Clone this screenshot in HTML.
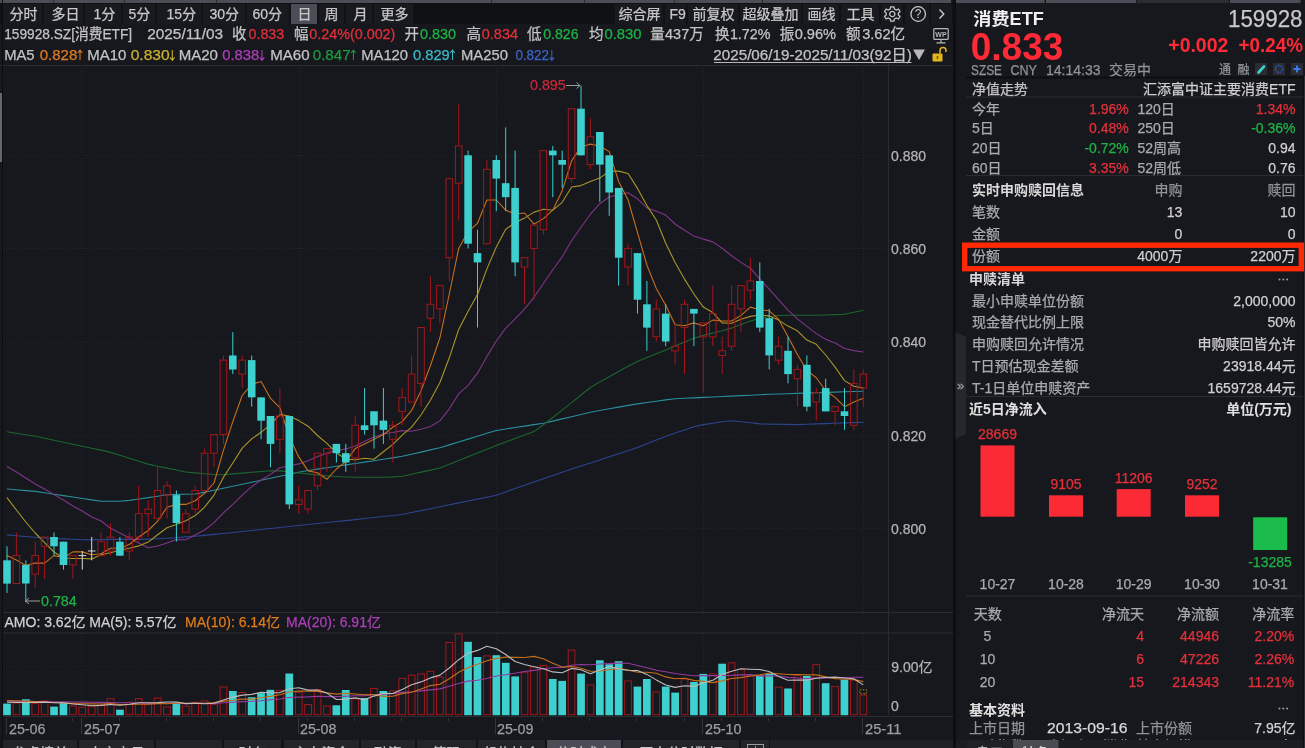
<!DOCTYPE html>
<html><head><meta charset="utf-8"><title>消费ETF</title>
<style>
html,body{margin:0;padding:0;background:#16181d;}
body{width:1305px;height:748px;overflow:hidden;}
svg{display:block;font-family:"Liberation Sans","Noto Sans CJK SC",sans-serif;}
</style></head><body>
<svg width="1305" height="748" viewBox="0 0 1305 748" font-size="14">
<rect width="1305" height="748" fill="#16181d"/>

<rect x="0" y="0" width="951" height="3" fill="#4b4e56"/>
<rect x="955" y="0" width="89.5" height="3" fill="#4b4e56"/><rect x="1046" y="0" width="90" height="3" fill="#4b4e56"/><rect x="1137" y="0" width="92" height="3" fill="#2b2d33"/><rect x="1230" y="0" width="70.5" height="3" fill="#4b4e56"/>
<rect x="53" y="0" width="1" height="3" fill="#2a2c31"/>
<rect x="124" y="0" width="1" height="3" fill="#2a2c31"/>
<rect x="216" y="0" width="1" height="3" fill="#2a2c31"/>
<rect x="491" y="0" width="1" height="3" fill="#2a2c31"/>
<rect x="584" y="0" width="1" height="3" fill="#2a2c31"/>
<rect x="674" y="0" width="1" height="3" fill="#2a2c31"/>
<rect x="762" y="0" width="1" height="3" fill="#2a2c31"/>
<rect x="0" y="3" width="953" height="21" fill="#0f1114"/>
<rect x="3" y="4" width="39" height="20" fill="#181a1f"/>
<text x="9.5" y="19.3" fill="#c8c8c8" stroke="#c8c8c8" stroke-width="0.25">分时</text>
<rect x="44" y="4" width="39" height="20" fill="#181a1f"/>
<text x="51.5" y="19.3" fill="#c8c8c8" stroke="#c8c8c8" stroke-width="0.25">多日</text>
<rect x="85" y="4" width="36" height="20" fill="#181a1f"/>
<text x="93.5" y="19.3" fill="#c8c8c8" stroke="#c8c8c8" stroke-width="0.25">1分</text>
<rect x="123" y="4" width="32" height="20" fill="#181a1f"/>
<text x="128.5" y="19.3" fill="#c8c8c8" stroke="#c8c8c8" stroke-width="0.25">5分</text>
<rect x="157" y="4" width="44" height="20" fill="#181a1f"/>
<text x="166.5" y="19.3" fill="#c8c8c8" stroke="#c8c8c8" stroke-width="0.25">15分</text>
<rect x="203" y="4" width="42" height="20" fill="#181a1f"/>
<text x="209.5" y="19.3" fill="#c8c8c8" stroke="#c8c8c8" stroke-width="0.25">30分</text>
<rect x="247" y="4" width="42" height="20" fill="#181a1f"/>
<text x="252.5" y="19.3" fill="#c8c8c8" stroke="#c8c8c8" stroke-width="0.25">60分</text>
<rect x="291" y="4" width="26" height="20" fill="#4a4d55"/>
<text x="297.5" y="19.3" fill="#c8c8c8" stroke="#c8c8c8" stroke-width="0.25">日</text>
<rect x="319" y="4" width="25" height="20" fill="#181a1f"/>
<text x="324.5" y="19.3" fill="#c8c8c8" stroke="#c8c8c8" stroke-width="0.25">周</text>
<rect x="346" y="4" width="26" height="20" fill="#181a1f"/>
<text x="353.5" y="19.3" fill="#c8c8c8" stroke="#c8c8c8" stroke-width="0.25">月</text>
<rect x="374" y="4" width="39" height="20" fill="#181a1f"/>
<text x="380.5" y="19.3" fill="#c8c8c8" stroke="#c8c8c8" stroke-width="0.25">更多</text>
<rect x="615" y="4" width="48" height="20" fill="#181a1f"/>
<text x="618.5" y="19.3" fill="#c8c8c8" stroke="#c8c8c8" stroke-width="0.25">综合屏</text>
<rect x="665" y="4" width="21" height="20" fill="#181a1f"/>
<text x="669.5" y="19.3" fill="#c8c8c8" stroke="#c8c8c8" stroke-width="0.25">F9</text>
<rect x="688" y="4" width="50" height="20" fill="#181a1f"/>
<text x="692.5" y="19.3" fill="#c8c8c8" stroke="#c8c8c8" stroke-width="0.25">前复权</text>
<rect x="740" y="4" width="61" height="20" fill="#181a1f"/>
<text x="742.5" y="19.3" fill="#c8c8c8" stroke="#c8c8c8" stroke-width="0.25">超级叠加</text>
<rect x="803" y="4" width="36" height="20" fill="#181a1f"/>
<text x="807.5" y="19.3" fill="#c8c8c8" stroke="#c8c8c8" stroke-width="0.25">画线</text>
<rect x="841" y="4" width="38" height="20" fill="#181a1f"/>
<text x="846.5" y="19.3" fill="#c8c8c8" stroke="#c8c8c8" stroke-width="0.25">工具</text>
<rect x="881" y="4" width="22" height="20" fill="#181a1f"/>
<rect x="905" y="4" width="24" height="20" fill="#181a1f"/>
<rect x="931" y="4" width="21" height="20" fill="#181a1f"/>
<g transform="translate(892.3,14)" fill="none" stroke="#c8c8c8" stroke-width="1.3"><circle r="2.6"/><path d="M-1.6,-7.2 L1.6,-7.2 L2.2,-5 L4.3,-4 L6.3,-5.1 L7.9,-2.4 L6.2,-0.9 L6.2,0.9 L7.9,2.4 L6.3,5.1 L4.3,4 L2.2,5 L1.6,7.2 L-1.6,7.2 L-2.2,5 L-4.3,4 L-6.3,5.1 L-7.9,2.4 L-6.2,0.9 L-6.2,-0.9 L-7.9,-2.4 L-6.3,-5.1 L-4.3,-4 L-2.2,-5 Z" transform="scale(0.98)"/></g>
<g transform="translate(918.2,14)"><circle r="7.3" fill="none" stroke="#c8c8c8" stroke-width="1.3"/><text x="0" y="4.3" fill="#c8c8c8" font-size="12" text-anchor="middle">?</text></g>
<path d="M939.5,9.5 L943.8,14 L939.5,18.5" fill="none" stroke="#c8c8c8" stroke-width="1.4"/>
<text x="4.2" y="39.2" fill="#c4c4c4" stroke="#c4c4c4" stroke-width="0.25" font-size="14.5" textLength="127.9" lengthAdjust="spacingAndGlyphs">159928.SZ[消费ETF]</text>
<text x="147.2" y="39.2" fill="#c4c4c4" stroke="#c4c4c4" stroke-width="0.25" font-size="14.5" textLength="75.9" lengthAdjust="spacingAndGlyphs">2025/11/03</text>
<text x="232.1" y="39.2" fill="#c4c4c4" stroke="#c4c4c4" stroke-width="0.25" font-size="14.5">收</text>
<text x="248.5" y="39.2" fill="#e5303a" stroke="#e5303a" stroke-width="0.25" font-size="14.5" textLength="35.7" lengthAdjust="spacingAndGlyphs">0.833</text>
<text x="294.1" y="39.2" fill="#c4c4c4" stroke="#c4c4c4" stroke-width="0.25" font-size="14.5">幅</text>
<text x="309.2" y="39.2" fill="#e5303a" stroke="#e5303a" stroke-width="0.25" font-size="14.5" textLength="86.2" lengthAdjust="spacingAndGlyphs">0.24%(0.002)</text>
<text x="404.5" y="39.2" fill="#c4c4c4" stroke="#c4c4c4" stroke-width="0.25" font-size="14.5">开</text>
<text x="420.09999999999997" y="39.2" fill="#1fb347" stroke="#1fb347" stroke-width="0.25" font-size="14.5" textLength="36.0" lengthAdjust="spacingAndGlyphs">0.830</text>
<text x="466.4" y="39.2" fill="#c4c4c4" stroke="#c4c4c4" stroke-width="0.25" font-size="14.5">高</text>
<text x="481.8" y="39.2" fill="#e5303a" stroke="#e5303a" stroke-width="0.25" font-size="14.5" textLength="36.2" lengthAdjust="spacingAndGlyphs">0.834</text>
<text x="527.1" y="39.2" fill="#c4c4c4" stroke="#c4c4c4" stroke-width="0.25" font-size="14.5">低</text>
<text x="543.2" y="39.2" fill="#1fb347" stroke="#1fb347" stroke-width="0.25" font-size="14.5" textLength="35.4" lengthAdjust="spacingAndGlyphs">0.826</text>
<text x="589.0" y="39.2" fill="#c4c4c4" stroke="#c4c4c4" stroke-width="0.25" font-size="14.5">均</text>
<text x="604.4000000000001" y="39.2" fill="#1fb347" stroke="#1fb347" stroke-width="0.25" font-size="14.5" textLength="37.2" lengthAdjust="spacingAndGlyphs">0.830</text>
<text x="650.2" y="39.2" fill="#c4c4c4" stroke="#c4c4c4" stroke-width="0.25" font-size="14.5">量</text>
<text x="665.1" y="39.2" fill="#c4c4c4" stroke="#c4c4c4" stroke-width="0.25" font-size="14.5" textLength="38.5" lengthAdjust="spacingAndGlyphs">437万</text>
<text x="715.0" y="39.2" fill="#c4c4c4" stroke="#c4c4c4" stroke-width="0.25" font-size="14.5">换</text>
<text x="729.9000000000001" y="39.2" fill="#c4c4c4" stroke="#c4c4c4" stroke-width="0.25" font-size="14.5" textLength="40.6" lengthAdjust="spacingAndGlyphs">1.72%</text>
<text x="779.8" y="39.2" fill="#c4c4c4" stroke="#c4c4c4" stroke-width="0.25" font-size="14.5">振</text>
<text x="794.7" y="39.2" fill="#c4c4c4" stroke="#c4c4c4" stroke-width="0.25" font-size="14.5" textLength="41.4" lengthAdjust="spacingAndGlyphs">0.96%</text>
<text x="846.1" y="39.2" fill="#c4c4c4" stroke="#c4c4c4" stroke-width="0.25" font-size="14.5">额</text>
<text x="862.2" y="39.2" fill="#c4c4c4" stroke="#c4c4c4" stroke-width="0.25" font-size="14.5" textLength="42.9" lengthAdjust="spacingAndGlyphs">3.62亿</text>
<g fill="none" stroke="#b8b8b8" stroke-width="1.2"><rect x="933.8" y="28.6" width="14.4" height="10.8" rx="1"/><path d="M941,39.6 L941,42.2 M936.5,42.8 L945.5,42.8"/></g><text x="941" y="37" fill="#b8b8b8" font-size="7" font-weight="bold" text-anchor="middle">WP</text>
<text x="4.2" y="60.3" fill="#c4c4c4" stroke="#c4c4c4" stroke-width="0.25" font-size="14.5" textLength="30.4" lengthAdjust="spacingAndGlyphs">MA5</text>
<text x="39.7" y="60.3" fill="#e07b1f" stroke="#e07b1f" stroke-width="0.25" font-size="14.5" textLength="37.6" lengthAdjust="spacingAndGlyphs">0.828</text>
<path d="M80.0,60.099999999999994 L80.0,50.3 M77.7,53.0 L80.0,50.099999999999994 L82.3,53.0" fill="none" stroke="#e07b1f" stroke-width="1.05"/>
<text x="87.2" y="60.3" fill="#c4c4c4" stroke="#c4c4c4" stroke-width="0.25" font-size="14.5" textLength="39.1" lengthAdjust="spacingAndGlyphs">MA10</text>
<text x="130.7" y="60.3" fill="#cbb22e" stroke="#cbb22e" stroke-width="0.25" font-size="14.5" textLength="38.9" lengthAdjust="spacingAndGlyphs">0.830</text>
<path d="M172.3,50.099999999999994 L172.3,60.3 M170.0,57.4 L172.3,60.3 L174.60000000000002,57.4" fill="none" stroke="#cbb22e" stroke-width="1.05"/>
<text x="178.7" y="60.3" fill="#c4c4c4" stroke="#c4c4c4" stroke-width="0.25" font-size="14.5" textLength="39.3" lengthAdjust="spacingAndGlyphs">MA20</text>
<text x="222.2" y="60.3" fill="#ad3fb8" stroke="#ad3fb8" stroke-width="0.25" font-size="14.5" textLength="37.1" lengthAdjust="spacingAndGlyphs">0.838</text>
<path d="M262.0,50.099999999999994 L262.0,60.3 M259.7,57.4 L262.0,60.3 L264.3,57.4" fill="none" stroke="#ad3fb8" stroke-width="1.05"/>
<text x="270.2" y="60.3" fill="#c4c4c4" stroke="#c4c4c4" stroke-width="0.25" font-size="14.5" textLength="39.4" lengthAdjust="spacingAndGlyphs">MA60</text>
<text x="312.7" y="60.3" fill="#1f9a3e" stroke="#1f9a3e" stroke-width="0.25" font-size="14.5" textLength="38.0" lengthAdjust="spacingAndGlyphs">0.847</text>
<path d="M353.40000000000003,60.099999999999994 L353.40000000000003,50.3 M351.1,53.0 L353.40000000000003,50.099999999999994 L355.70000000000005,53.0" fill="none" stroke="#1f9a3e" stroke-width="1.05"/>
<text x="361.2" y="60.3" fill="#c4c4c4" stroke="#c4c4c4" stroke-width="0.25" font-size="14.5" textLength="46.9" lengthAdjust="spacingAndGlyphs">MA120</text>
<text x="413.0" y="60.3" fill="#3cb9c9" stroke="#3cb9c9" stroke-width="0.25" font-size="14.5" textLength="36.8" lengthAdjust="spacingAndGlyphs">0.829</text>
<path d="M452.5,60.099999999999994 L452.5,50.3 M450.2,53.0 L452.5,50.099999999999994 L454.8,53.0" fill="none" stroke="#3cb9c9" stroke-width="1.05"/>
<text x="461.0" y="60.3" fill="#c4c4c4" stroke="#c4c4c4" stroke-width="0.25" font-size="14.5" textLength="46.9" lengthAdjust="spacingAndGlyphs">MA250</text>
<text x="515.4000000000001" y="60.3" fill="#3d64c8" stroke="#3d64c8" stroke-width="0.25" font-size="14.5" textLength="33.7" lengthAdjust="spacingAndGlyphs">0.822</text>
<path d="M551.8,50.099999999999994 L551.8,60.3 M549.5,57.4 L551.8,60.3 L554.0999999999999,57.4" fill="none" stroke="#3d64c8" stroke-width="1.05"/>
<text x="713.3" y="60.3" fill="#c4c4c4" stroke="#c4c4c4" stroke-width="0.25" font-size="14.5" textLength="198.5" lengthAdjust="spacingAndGlyphs">2025/06/19-2025/11/03(92日)</text>
<line x1="714" y1="62.5" x2="911.5" y2="62.5" stroke="#b8b8b8" stroke-width="1"/>
<path d="M913,49.5 L925,49.5 L919,60 Z" fill="#b8b8b8"/>
<rect x="932.5" y="53.5" width="10" height="8" rx="1" fill="#e3b51f"/><path d="M940,53.5 L940,50.5 A3,3 0 0 1 946,50.5 L946,52" fill="none" stroke="#e3b51f" stroke-width="1.5"/><rect x="936.8" y="56" width="1.4" height="3" fill="#6a5200"/>
<rect x="0" y="65" width="953" height="1" fill="#2a2c31"/>
<rect x="0" y="93" width="2" height="69" fill="#64666c"/>
<rect x="2" y="0" width="1" height="740" fill="#0b0c0f"/>
<rect x="3" y="612" width="950" height="1" fill="#2a2c31"/>
<rect x="3" y="632.5" width="950" height="1" fill="#2a2c31"/>
<rect x="888" y="64" width="1" height="651" fill="#2a2c31"/>
<rect x="3" y="716" width="950" height="1" fill="#2a2c31"/>
<text x="891" y="161.2" fill="#b4b4b4" stroke="#b4b4b4" stroke-width="0.25">0.880</text>
<text x="891" y="254.3" fill="#b4b4b4" stroke="#b4b4b4" stroke-width="0.25">0.860</text>
<text x="891" y="347.4" fill="#b4b4b4" stroke="#b4b4b4" stroke-width="0.25">0.840</text>
<text x="891" y="440.5" fill="#b4b4b4" stroke="#b4b4b4" stroke-width="0.25">0.820</text>
<text x="891" y="533.6" fill="#b4b4b4" stroke="#b4b4b4" stroke-width="0.25">0.800</text>
<line x1="3" y1="155.5" x2="888" y2="155.5" stroke="#24262b" stroke-dasharray="1,2"/>
<line x1="3" y1="248.5" x2="888" y2="248.5" stroke="#24262b" stroke-dasharray="1,2"/>
<line x1="3" y1="342.5" x2="888" y2="342.5" stroke="#24262b" stroke-dasharray="1,2"/>
<line x1="3" y1="435.5" x2="888" y2="435.5" stroke="#24262b" stroke-dasharray="1,2"/>
<line x1="3" y1="528.5" x2="888" y2="528.5" stroke="#24262b" stroke-dasharray="1,2"/>
<line x1="81.5" y1="65" x2="81.5" y2="612" stroke="#24262b" stroke-dasharray="1,2"/>
<line x1="81.5" y1="633" x2="81.5" y2="715" stroke="#24262b" stroke-dasharray="1,2"/>
<line x1="299.5" y1="65" x2="299.5" y2="612" stroke="#24262b" stroke-dasharray="1,2"/>
<line x1="299.5" y1="633" x2="299.5" y2="715" stroke="#24262b" stroke-dasharray="1,2"/>
<line x1="496.5" y1="65" x2="496.5" y2="612" stroke="#24262b" stroke-dasharray="1,2"/>
<line x1="496.5" y1="633" x2="496.5" y2="715" stroke="#24262b" stroke-dasharray="1,2"/>
<line x1="703.5" y1="65" x2="703.5" y2="612" stroke="#24262b" stroke-dasharray="1,2"/>
<line x1="703.5" y1="633" x2="703.5" y2="715" stroke="#24262b" stroke-dasharray="1,2"/>
<line x1="863.5" y1="65" x2="863.5" y2="612" stroke="#24262b" stroke-dasharray="1,2"/>
<line x1="863.5" y1="633" x2="863.5" y2="715" stroke="#24262b" stroke-dasharray="1,2"/>
<line x1="3" y1="666.5" x2="888" y2="666.5" stroke="#24262b" stroke-dasharray="1,2"/>
<polyline points="7.0,534.9 16.4,535.7 25.8,536.5 35.2,537.3 44.6,538.0 54.0,538.5 63.5,538.9 72.9,539.3 82.3,539.7 91.7,539.9 101.1,539.6 110.5,539.4 119.9,539.4 129.3,539.4 138.7,539.4 148.2,539.1 157.6,538.7 167.0,538.2 176.4,537.7 185.8,536.9 195.2,536.2 204.6,535.4 214.0,534.4 223.4,533.5 232.8,532.5 242.2,531.5 251.7,530.5 261.1,529.5 270.5,528.5 279.9,527.5 289.3,526.5 298.7,525.5 308.1,524.5 317.5,523.5 326.9,522.5 336.4,521.5 345.8,520.6 355.2,519.6 364.6,518.5 374.0,517.5 383.4,516.5 392.8,515.5 402.2,514.5 411.6,512.5 421.0,510.6 430.4,508.7 439.9,506.8 449.3,504.8 458.7,502.9 468.1,501.0 477.5,499.1 486.9,497.2 496.3,495.2 505.7,491.9 515.1,488.6 524.5,485.3 534.0,482.0 543.4,478.7 552.8,475.4 562.2,472.2 571.6,469.1 581.0,466.0 590.4,463.0 599.8,459.9 609.2,456.8 618.6,453.7 628.1,450.7 637.5,447.4 646.9,443.7 656.3,440.0 665.7,436.4 675.1,433.1 684.5,429.9 693.9,426.7 703.3,424.6 712.8,423.2 722.2,421.8 731.6,420.8 741.0,421.8 750.4,422.8 759.8,423.9 769.2,424.1 778.6,424.3 788.0,424.4 797.4,424.6 806.9,424.3 816.3,423.9 825.7,423.6 835.1,423.3 844.5,422.9 853.9,422.6 863.3,422.3" fill="none" stroke="#2b4590" stroke-width="1.1" stroke-linejoin="round"/>
<polyline points="7.0,489.0 16.4,489.8 25.8,490.6 35.2,491.4 44.6,492.8 54.0,494.2 63.5,495.6 72.9,497.0 82.3,498.5 91.7,499.9 101.1,501.3 110.5,501.3 119.9,501.3 129.3,500.4 138.7,499.0 148.2,497.6 157.6,496.2 167.0,494.8 176.4,494.4 185.8,494.2 195.2,494.0 204.6,492.1 214.0,490.2 223.4,488.3 232.8,486.3 242.2,484.3 251.7,482.3 261.1,480.3 270.5,478.3 279.9,476.3 289.3,474.3 298.7,472.3 308.1,470.5 317.5,469.1 326.9,467.7 336.4,466.3 345.8,464.9 355.2,463.5 364.6,462.1 374.0,460.7 383.4,459.3 392.8,457.9 402.2,456.3 411.6,454.2 421.0,452.1 430.4,449.9 439.9,447.8 449.3,444.9 458.7,442.0 468.1,439.1 477.5,436.2 486.9,433.3 496.3,430.5 505.7,429.0 515.1,427.5 524.5,426.1 534.0,424.6 543.4,423.2 552.8,421.1 562.2,418.9 571.6,416.7 581.0,414.5 590.4,412.3 599.8,410.5 609.2,408.8 618.6,407.1 628.1,405.4 637.5,403.9 646.9,402.5 656.3,401.2 665.7,399.9 675.1,398.8 684.5,398.3 693.9,397.9 703.3,397.4 712.8,397.0 722.2,396.5 731.6,396.1 741.0,395.6 750.4,395.2 759.8,394.7 769.2,394.3 778.6,394.0 788.0,393.7 797.4,393.4 806.9,393.1 816.3,392.8 825.7,392.4 835.1,392.1 844.5,391.8 853.9,391.5 863.3,391.2" fill="none" stroke="#2a8e9c" stroke-width="1.1" stroke-linejoin="round"/>
<polyline points="7.0,431.8 16.4,433.3 25.8,434.8 35.2,436.3 44.6,438.2 54.0,440.2 63.5,442.2 72.9,444.2 82.3,446.2 91.7,448.2 101.1,450.1 110.5,452.4 119.9,455.3 129.3,458.3 138.7,461.2 148.2,464.1 157.6,466.2 167.0,468.1 176.4,470.0 185.8,472.0 195.2,472.9 204.6,473.7 214.0,474.5 223.4,474.7 232.8,473.9 242.2,473.1 251.7,472.3 261.1,471.5 270.5,470.8 279.9,470.9 289.3,472.0 298.7,473.0 308.1,473.9 317.5,474.9 326.9,475.8 336.4,476.5 345.8,477.0 355.2,477.3 364.6,477.3 374.0,477.3 383.4,477.2 392.8,476.9 402.2,476.2 411.6,474.2 421.0,472.1 430.4,470.1 439.9,468.0 449.3,464.3 458.7,460.5 468.1,456.8 477.5,453.0 486.9,449.2 496.3,445.5 505.7,442.0 515.1,438.5 524.5,435.1 534.0,431.6 543.4,424.7 552.8,417.5 562.2,410.1 571.6,402.6 581.0,395.0 590.4,387.5 599.8,381.9 609.2,376.7 618.6,371.5 628.1,366.3 637.5,361.5 646.9,357.6 656.3,353.7 665.7,349.9 675.1,346.0 684.5,342.1 693.9,338.3 703.3,335.4 712.8,333.0 722.2,330.7 731.6,328.1 741.0,324.6 750.4,321.1 759.8,318.2 769.2,316.8 778.6,315.5 788.0,315.3 797.4,315.3 806.9,315.3 816.3,315.3 825.7,315.0 835.1,314.6 844.5,314.2 853.9,312.2 863.3,310.3" fill="none" stroke="#1b6630" stroke-width="1.1" stroke-linejoin="round"/>
<polyline points="7.0,466.5 16.4,472.0 25.8,478.0 35.2,484.0 44.6,489.0 54.0,494.6 63.5,500.0 72.9,506.0 82.3,511.0 91.7,517.0 101.1,521.0 110.5,528.3 119.9,533.0 129.3,538.0 138.7,543.0 148.2,547.7 157.6,546.0 167.0,543.0 176.4,539.5 185.8,539.8 195.2,535.1 204.6,530.0 214.0,522.6 223.4,512.8 232.8,504.4 242.2,495.1 251.7,486.7 261.1,480.0 270.5,474.4 279.9,467.7 289.3,465.8 298.7,463.9 308.1,460.7 317.5,456.5 326.9,453.2 336.4,450.4 345.8,449.0 355.2,446.0 364.6,441.3 374.0,436.9 383.4,433.9 392.8,432.5 402.2,430.6 411.6,431.3 421.0,429.2 430.4,426.5 439.9,420.9 449.3,408.8 458.7,393.9 468.1,385.3 477.5,373.2 486.9,356.6 496.3,341.0 505.7,328.2 515.1,318.9 524.5,309.1 534.0,297.3 543.4,283.5 552.8,269.8 562.2,256.8 571.6,240.7 581.0,227.2 590.4,214.2 599.8,203.7 609.2,197.0 618.6,194.6 628.1,192.8 637.5,198.8 646.9,207.9 656.3,211.2 665.7,215.1 675.1,224.0 684.5,230.2 693.9,236.1 703.3,239.1 712.8,241.9 722.2,248.2 731.6,255.8 741.0,262.4 750.4,268.2 759.8,279.1 769.2,289.1 778.6,299.6 788.0,310.1 797.4,318.9 806.9,326.4 816.3,333.6 825.7,339.2 835.1,343.1 844.5,348.5 853.9,350.6 863.3,352.0" fill="none" stroke="#803589" stroke-width="1.1" stroke-linejoin="round"/>
<polyline points="7.0,497.6 16.4,510.0 25.8,522.0 35.2,533.0 44.6,542.6 54.0,552.0 63.5,558.0 72.9,558.5 82.3,558.5 91.7,558.9 101.1,554.7 110.5,552.8 119.9,550.0 129.3,548.2 138.7,545.9 148.2,542.1 157.6,534.7 167.0,527.7 176.4,524.4 185.8,520.7 195.2,515.6 204.6,507.2 214.0,495.1 223.4,477.4 232.8,463.0 242.2,448.1 251.7,438.8 261.1,432.3 270.5,424.4 279.9,414.6 289.3,416.0 298.7,420.6 308.1,426.2 317.5,435.5 326.9,443.4 336.4,452.8 345.8,459.3 355.2,459.7 364.6,458.3 374.0,459.3 383.4,451.8 392.8,444.4 402.2,435.1 411.6,427.2 421.0,415.0 430.4,400.2 439.9,382.5 449.3,357.8 458.7,329.4 468.1,311.2 477.5,294.5 486.9,268.9 496.3,247.0 505.7,229.3 515.1,222.8 524.5,218.1 534.0,212.1 543.4,209.3 552.8,210.2 562.2,202.3 571.6,187.0 581.0,185.6 590.4,181.4 599.8,178.1 609.2,171.1 618.6,171.1 628.1,173.5 637.5,188.4 646.9,205.6 656.3,220.0 665.7,243.3 675.1,262.4 684.5,279.1 693.9,294.0 703.3,307.1 712.8,312.6 722.2,322.9 731.6,323.3 741.0,319.2 750.4,316.4 759.8,315.0 769.2,315.9 778.6,320.1 788.0,326.1 797.4,330.8 806.9,340.1 816.3,344.3 825.7,355.0 835.1,367.1 844.5,380.6 853.9,386.2 863.3,388.1" fill="none" stroke="#a99528" stroke-width="1.1" stroke-linejoin="round"/>
<polyline points="7.0,555.6 16.4,560.0 25.8,565.4 35.2,563.0 44.6,563.1 54.0,555.6 63.5,557.5 72.9,551.9 82.3,551.9 91.7,554.7 101.1,553.8 110.5,548.2 119.9,548.2 129.3,544.5 138.7,537.0 148.2,530.5 157.6,521.2 167.0,507.2 176.4,504.4 185.8,504.4 195.2,500.7 204.6,493.3 214.0,483.0 223.4,450.4 232.8,421.6 242.2,395.5 251.7,384.3 261.1,381.5 270.5,398.3 279.9,407.6 289.3,436.5 298.7,456.9 308.1,470.9 317.5,472.8 326.9,479.3 336.4,469.0 345.8,461.6 355.2,448.6 364.6,443.9 374.0,439.3 383.4,434.6 392.8,427.2 402.2,421.6 411.6,410.4 421.0,390.8 430.4,365.7 439.9,337.8 449.3,294.0 458.7,248.4 468.1,231.6 477.5,223.3 486.9,200.0 496.3,200.0 505.7,210.2 515.1,214.0 524.5,213.0 534.0,224.2 543.4,218.6 552.8,210.2 562.2,190.7 571.6,160.9 581.0,146.9 590.4,144.1 599.8,146.0 609.2,151.6 618.6,181.4 628.1,200.0 637.5,232.6 646.9,265.2 656.3,288.4 665.7,305.2 675.1,324.7 684.5,325.7 693.9,322.9 703.3,325.7 712.8,320.1 722.2,321.0 731.6,321.0 741.0,315.4 750.4,307.1 759.8,309.8 769.2,310.8 778.6,319.2 788.0,336.8 797.4,354.5 806.9,370.4 816.3,377.8 825.7,390.8 835.1,397.4 844.5,406.7 853.9,402.0 863.3,398.3" fill="none" stroke="#c96f1d" stroke-width="1.1" stroke-linejoin="round"/>
<line x1="7.0" y1="546.3" x2="7.0" y2="592.9" stroke="#3ecfcf"/>
<rect x="3.2" y="560.3" width="7.6" height="23.3" fill="#3ecfcf"/>
<line x1="16.4" y1="532.4" x2="16.4" y2="555.6" stroke="#a3161c"/>
<line x1="16.4" y1="583.6" x2="16.4" y2="583.6" stroke="#a3161c"/>
<rect x="13.1" y="555.6" width="6.6" height="27.9" fill="none" stroke="#a3161c"/>
<line x1="25.8" y1="560.3" x2="25.8" y2="602.2" stroke="#3ecfcf"/>
<rect x="22.0" y="564.9" width="7.6" height="18.6" fill="#3ecfcf"/>
<line x1="35.2" y1="541.7" x2="35.2" y2="555.6" stroke="#a3161c"/>
<line x1="35.2" y1="574.2" x2="35.2" y2="588.2" stroke="#a3161c"/>
<rect x="31.9" y="555.6" width="6.6" height="18.6" fill="none" stroke="#a3161c"/>
<line x1="44.6" y1="537.0" x2="44.6" y2="537.0" stroke="#a3161c"/>
<line x1="44.6" y1="546.3" x2="44.6" y2="578.9" stroke="#a3161c"/>
<rect x="41.3" y="537.0" width="6.6" height="9.3" fill="none" stroke="#a3161c"/>
<line x1="54.0" y1="532.4" x2="54.0" y2="555.6" stroke="#3ecfcf"/>
<rect x="50.2" y="537.0" width="7.6" height="9.3" fill="#3ecfcf"/>
<line x1="63.5" y1="541.7" x2="63.5" y2="569.6" stroke="#3ecfcf"/>
<rect x="59.7" y="541.7" width="7.6" height="23.3" fill="#3ecfcf"/>
<line x1="72.9" y1="555.6" x2="72.9" y2="555.6" stroke="#a3161c"/>
<line x1="72.9" y1="564.9" x2="72.9" y2="578.9" stroke="#a3161c"/>
<rect x="69.6" y="555.6" width="6.6" height="9.3" fill="none" stroke="#a3161c"/>
<line x1="82.3" y1="551.0" x2="82.3" y2="569.6" stroke="#d8d8d8"/>
<line x1="78.5" y1="555.6" x2="86.1" y2="555.6" stroke="#d8d8d8"/>
<line x1="91.7" y1="537.0" x2="91.7" y2="560.3" stroke="#d8d8d8"/>
<line x1="87.9" y1="551.0" x2="95.5" y2="551.0" stroke="#d8d8d8"/>
<line x1="101.1" y1="532.4" x2="101.1" y2="541.7" stroke="#a3161c"/>
<line x1="101.1" y1="555.6" x2="101.1" y2="555.6" stroke="#a3161c"/>
<rect x="97.8" y="541.7" width="6.6" height="14.0" fill="none" stroke="#a3161c"/>
<line x1="110.5" y1="523.0" x2="110.5" y2="537.0" stroke="#a3161c"/>
<line x1="110.5" y1="551.0" x2="110.5" y2="555.6" stroke="#a3161c"/>
<rect x="107.2" y="537.0" width="6.6" height="14.0" fill="none" stroke="#a3161c"/>
<line x1="119.9" y1="537.0" x2="119.9" y2="555.6" stroke="#3ecfcf"/>
<rect x="116.1" y="541.7" width="7.6" height="14.0" fill="#3ecfcf"/>
<line x1="129.3" y1="532.4" x2="129.3" y2="537.0" stroke="#a3161c"/>
<line x1="129.3" y1="551.0" x2="129.3" y2="560.3" stroke="#a3161c"/>
<rect x="126.0" y="537.0" width="6.6" height="14.0" fill="none" stroke="#a3161c"/>
<line x1="138.7" y1="485.8" x2="138.7" y2="513.7" stroke="#a3161c"/>
<line x1="138.7" y1="537.0" x2="138.7" y2="541.7" stroke="#a3161c"/>
<rect x="135.4" y="513.7" width="6.6" height="23.3" fill="none" stroke="#a3161c"/>
<line x1="148.2" y1="499.8" x2="148.2" y2="509.1" stroke="#a3161c"/>
<line x1="148.2" y1="513.7" x2="148.2" y2="537.0" stroke="#a3161c"/>
<rect x="144.8" y="509.1" width="6.6" height="4.7" fill="none" stroke="#a3161c"/>
<line x1="157.6" y1="467.2" x2="157.6" y2="490.5" stroke="#a3161c"/>
<line x1="157.6" y1="518.4" x2="157.6" y2="518.4" stroke="#a3161c"/>
<rect x="154.3" y="490.5" width="6.6" height="27.9" fill="none" stroke="#a3161c"/>
<line x1="167.0" y1="481.1" x2="167.0" y2="485.8" stroke="#a3161c"/>
<line x1="167.0" y1="495.1" x2="167.0" y2="518.4" stroke="#a3161c"/>
<rect x="163.7" y="485.8" width="6.6" height="9.3" fill="none" stroke="#a3161c"/>
<line x1="176.4" y1="490.5" x2="176.4" y2="541.7" stroke="#3ecfcf"/>
<rect x="172.6" y="495.1" width="7.6" height="27.9" fill="#3ecfcf"/>
<line x1="185.8" y1="509.1" x2="185.8" y2="513.7" stroke="#a3161c"/>
<line x1="185.8" y1="532.4" x2="185.8" y2="532.4" stroke="#a3161c"/>
<rect x="182.5" y="513.7" width="6.6" height="18.6" fill="none" stroke="#a3161c"/>
<line x1="195.2" y1="485.8" x2="195.2" y2="490.5" stroke="#a3161c"/>
<line x1="195.2" y1="509.1" x2="195.2" y2="513.7" stroke="#a3161c"/>
<rect x="191.9" y="490.5" width="6.6" height="18.6" fill="none" stroke="#a3161c"/>
<line x1="204.6" y1="448.6" x2="204.6" y2="453.2" stroke="#a3161c"/>
<line x1="204.6" y1="490.5" x2="204.6" y2="490.5" stroke="#a3161c"/>
<rect x="201.3" y="453.2" width="6.6" height="37.2" fill="none" stroke="#a3161c"/>
<line x1="214.0" y1="434.6" x2="214.0" y2="434.6" stroke="#a3161c"/>
<line x1="214.0" y1="453.2" x2="214.0" y2="467.2" stroke="#a3161c"/>
<rect x="210.7" y="434.6" width="6.6" height="18.6" fill="none" stroke="#a3161c"/>
<line x1="223.4" y1="355.5" x2="223.4" y2="360.1" stroke="#a3161c"/>
<line x1="223.4" y1="434.6" x2="223.4" y2="443.9" stroke="#a3161c"/>
<rect x="220.1" y="360.1" width="6.6" height="74.5" fill="none" stroke="#a3161c"/>
<line x1="232.8" y1="332.2" x2="232.8" y2="374.1" stroke="#3ecfcf"/>
<rect x="229.0" y="355.5" width="7.6" height="14.0" fill="#3ecfcf"/>
<line x1="242.2" y1="355.5" x2="242.2" y2="360.1" stroke="#a3161c"/>
<line x1="242.2" y1="374.1" x2="242.2" y2="388.1" stroke="#a3161c"/>
<rect x="238.9" y="360.1" width="6.6" height="14.0" fill="none" stroke="#a3161c"/>
<line x1="251.7" y1="355.5" x2="251.7" y2="406.7" stroke="#3ecfcf"/>
<rect x="247.9" y="360.1" width="7.6" height="37.2" fill="#3ecfcf"/>
<line x1="261.1" y1="397.4" x2="261.1" y2="439.3" stroke="#3ecfcf"/>
<rect x="257.3" y="397.4" width="7.6" height="23.3" fill="#3ecfcf"/>
<line x1="270.5" y1="416.0" x2="270.5" y2="467.2" stroke="#3ecfcf"/>
<rect x="266.7" y="416.0" width="7.6" height="27.9" fill="#3ecfcf"/>
<line x1="279.9" y1="388.1" x2="279.9" y2="416.0" stroke="#a3161c"/>
<line x1="279.9" y1="439.3" x2="279.9" y2="453.2" stroke="#a3161c"/>
<rect x="276.6" y="416.0" width="6.6" height="23.3" fill="none" stroke="#a3161c"/>
<line x1="289.3" y1="416.0" x2="289.3" y2="509.1" stroke="#3ecfcf"/>
<rect x="285.5" y="416.0" width="7.6" height="88.4" fill="#3ecfcf"/>
<line x1="298.7" y1="485.8" x2="298.7" y2="499.8" stroke="#a3161c"/>
<line x1="298.7" y1="504.4" x2="298.7" y2="513.7" stroke="#a3161c"/>
<rect x="295.4" y="499.8" width="6.6" height="4.7" fill="none" stroke="#a3161c"/>
<line x1="308.1" y1="490.5" x2="308.1" y2="490.5" stroke="#a3161c"/>
<line x1="308.1" y1="509.1" x2="308.1" y2="513.7" stroke="#a3161c"/>
<rect x="304.8" y="490.5" width="6.6" height="18.6" fill="none" stroke="#a3161c"/>
<line x1="317.5" y1="453.2" x2="317.5" y2="453.2" stroke="#a3161c"/>
<line x1="317.5" y1="485.8" x2="317.5" y2="490.5" stroke="#a3161c"/>
<rect x="314.2" y="453.2" width="6.6" height="32.6" fill="none" stroke="#a3161c"/>
<line x1="326.9" y1="448.6" x2="326.9" y2="448.6" stroke="#a3161c"/>
<line x1="326.9" y1="453.2" x2="326.9" y2="471.8" stroke="#a3161c"/>
<rect x="323.6" y="448.6" width="6.6" height="4.7" fill="none" stroke="#a3161c"/>
<line x1="336.4" y1="443.9" x2="336.4" y2="462.5" stroke="#3ecfcf"/>
<rect x="332.6" y="443.9" width="7.6" height="9.3" fill="#3ecfcf"/>
<line x1="345.8" y1="443.9" x2="345.8" y2="471.8" stroke="#3ecfcf"/>
<rect x="342.0" y="453.2" width="7.6" height="9.3" fill="#3ecfcf"/>
<line x1="355.2" y1="416.0" x2="355.2" y2="425.3" stroke="#a3161c"/>
<line x1="355.2" y1="457.9" x2="355.2" y2="471.8" stroke="#a3161c"/>
<rect x="351.9" y="425.3" width="6.6" height="32.6" fill="none" stroke="#a3161c"/>
<line x1="364.6" y1="388.1" x2="364.6" y2="434.6" stroke="#3ecfcf"/>
<rect x="360.8" y="425.3" width="7.6" height="4.7" fill="#3ecfcf"/>
<line x1="374.0" y1="411.3" x2="374.0" y2="448.6" stroke="#3ecfcf"/>
<rect x="370.2" y="411.3" width="7.6" height="14.0" fill="#3ecfcf"/>
<line x1="383.4" y1="388.1" x2="383.4" y2="443.9" stroke="#3ecfcf"/>
<rect x="379.6" y="420.6" width="7.6" height="9.3" fill="#3ecfcf"/>
<line x1="392.8" y1="420.6" x2="392.8" y2="425.3" stroke="#a3161c"/>
<line x1="392.8" y1="439.3" x2="392.8" y2="462.5" stroke="#a3161c"/>
<rect x="389.5" y="425.3" width="6.6" height="14.0" fill="none" stroke="#a3161c"/>
<line x1="402.2" y1="388.1" x2="402.2" y2="397.4" stroke="#a3161c"/>
<line x1="402.2" y1="411.3" x2="402.2" y2="425.3" stroke="#a3161c"/>
<rect x="398.9" y="397.4" width="6.6" height="14.0" fill="none" stroke="#a3161c"/>
<line x1="411.6" y1="355.5" x2="411.6" y2="374.1" stroke="#a3161c"/>
<line x1="411.6" y1="402.0" x2="411.6" y2="402.0" stroke="#a3161c"/>
<rect x="408.3" y="374.1" width="6.6" height="27.9" fill="none" stroke="#a3161c"/>
<line x1="421.0" y1="327.5" x2="421.0" y2="327.5" stroke="#a3161c"/>
<line x1="421.0" y1="383.4" x2="421.0" y2="406.7" stroke="#a3161c"/>
<rect x="417.7" y="327.5" width="6.6" height="55.9" fill="none" stroke="#a3161c"/>
<line x1="430.4" y1="276.3" x2="430.4" y2="304.3" stroke="#a3161c"/>
<line x1="430.4" y1="318.2" x2="430.4" y2="332.2" stroke="#a3161c"/>
<rect x="427.1" y="304.3" width="6.6" height="14.0" fill="none" stroke="#a3161c"/>
<line x1="439.9" y1="285.6" x2="439.9" y2="285.6" stroke="#a3161c"/>
<line x1="439.9" y1="308.9" x2="439.9" y2="322.9" stroke="#a3161c"/>
<rect x="436.6" y="285.6" width="6.6" height="23.3" fill="none" stroke="#a3161c"/>
<line x1="449.3" y1="178.6" x2="449.3" y2="178.6" stroke="#a3161c"/>
<line x1="449.3" y1="257.7" x2="449.3" y2="281.0" stroke="#a3161c"/>
<rect x="446.0" y="178.6" width="6.6" height="79.1" fill="none" stroke="#a3161c"/>
<line x1="458.7" y1="104.1" x2="458.7" y2="146.0" stroke="#a3161c"/>
<line x1="458.7" y1="183.2" x2="458.7" y2="220.5" stroke="#a3161c"/>
<rect x="455.4" y="146.0" width="6.6" height="37.2" fill="none" stroke="#a3161c"/>
<line x1="468.1" y1="150.6" x2="468.1" y2="248.4" stroke="#3ecfcf"/>
<rect x="464.3" y="155.3" width="7.6" height="88.4" fill="#3ecfcf"/>
<line x1="477.5" y1="229.8" x2="477.5" y2="327.5" stroke="#3ecfcf"/>
<rect x="473.7" y="253.1" width="7.6" height="9.3" fill="#3ecfcf"/>
<line x1="486.9" y1="160.0" x2="486.9" y2="169.3" stroke="#a3161c"/>
<line x1="486.9" y1="243.7" x2="486.9" y2="243.7" stroke="#a3161c"/>
<rect x="483.6" y="169.3" width="6.6" height="74.5" fill="none" stroke="#a3161c"/>
<line x1="496.3" y1="155.3" x2="496.3" y2="211.2" stroke="#3ecfcf"/>
<rect x="492.5" y="160.0" width="7.6" height="18.6" fill="#3ecfcf"/>
<line x1="505.7" y1="127.4" x2="505.7" y2="211.2" stroke="#3ecfcf"/>
<rect x="501.9" y="183.2" width="7.6" height="14.0" fill="#3ecfcf"/>
<line x1="515.1" y1="150.6" x2="515.1" y2="276.3" stroke="#3ecfcf"/>
<rect x="511.3" y="187.9" width="7.6" height="74.5" fill="#3ecfcf"/>
<line x1="524.5" y1="257.7" x2="524.5" y2="257.7" stroke="#a3161c"/>
<line x1="524.5" y1="267.0" x2="524.5" y2="304.3" stroke="#a3161c"/>
<rect x="521.2" y="257.7" width="6.6" height="9.3" fill="none" stroke="#a3161c"/>
<line x1="534.0" y1="225.1" x2="534.0" y2="225.1" stroke="#a3161c"/>
<line x1="534.0" y1="248.4" x2="534.0" y2="299.6" stroke="#a3161c"/>
<rect x="530.7" y="225.1" width="6.6" height="23.3" fill="none" stroke="#a3161c"/>
<line x1="543.4" y1="150.6" x2="543.4" y2="150.6" stroke="#a3161c"/>
<line x1="543.4" y1="229.8" x2="543.4" y2="234.4" stroke="#a3161c"/>
<rect x="540.1" y="150.6" width="6.6" height="79.1" fill="none" stroke="#a3161c"/>
<line x1="552.8" y1="146.0" x2="552.8" y2="197.2" stroke="#3ecfcf"/>
<rect x="549.0" y="150.6" width="7.6" height="4.7" fill="#3ecfcf"/>
<line x1="562.2" y1="150.6" x2="562.2" y2="187.9" stroke="#3ecfcf"/>
<rect x="558.4" y="160.0" width="7.6" height="4.7" fill="#3ecfcf"/>
<line x1="571.6" y1="108.7" x2="571.6" y2="108.7" stroke="#a3161c"/>
<line x1="571.6" y1="178.6" x2="571.6" y2="183.2" stroke="#a3161c"/>
<rect x="568.3" y="108.7" width="6.6" height="69.8" fill="none" stroke="#a3161c"/>
<line x1="581.0" y1="85.5" x2="581.0" y2="155.3" stroke="#3ecfcf"/>
<rect x="577.2" y="108.7" width="7.6" height="46.6" fill="#3ecfcf"/>
<line x1="590.4" y1="118.1" x2="590.4" y2="136.7" stroke="#a3161c"/>
<line x1="590.4" y1="164.6" x2="590.4" y2="169.3" stroke="#a3161c"/>
<rect x="587.1" y="136.7" width="6.6" height="27.9" fill="none" stroke="#a3161c"/>
<line x1="599.8" y1="132.0" x2="599.8" y2="201.9" stroke="#3ecfcf"/>
<rect x="596.0" y="132.0" width="7.6" height="32.6" fill="#3ecfcf"/>
<line x1="609.2" y1="155.3" x2="609.2" y2="215.8" stroke="#3ecfcf"/>
<rect x="605.4" y="155.3" width="7.6" height="37.2" fill="#3ecfcf"/>
<line x1="618.6" y1="187.9" x2="618.6" y2="285.6" stroke="#3ecfcf"/>
<rect x="614.9" y="187.9" width="7.6" height="69.8" fill="#3ecfcf"/>
<line x1="628.1" y1="243.7" x2="628.1" y2="248.4" stroke="#a3161c"/>
<line x1="628.1" y1="267.0" x2="628.1" y2="285.6" stroke="#a3161c"/>
<rect x="624.8" y="248.4" width="6.6" height="18.6" fill="none" stroke="#a3161c"/>
<line x1="637.5" y1="253.1" x2="637.5" y2="313.6" stroke="#3ecfcf"/>
<rect x="633.7" y="253.1" width="7.6" height="46.6" fill="#3ecfcf"/>
<line x1="646.9" y1="281.0" x2="646.9" y2="350.8" stroke="#3ecfcf"/>
<rect x="643.1" y="304.3" width="7.6" height="23.3" fill="#3ecfcf"/>
<line x1="656.3" y1="299.6" x2="656.3" y2="308.9" stroke="#a3161c"/>
<line x1="656.3" y1="336.8" x2="656.3" y2="341.5" stroke="#a3161c"/>
<rect x="653.0" y="308.9" width="6.6" height="27.9" fill="none" stroke="#a3161c"/>
<line x1="665.7" y1="304.3" x2="665.7" y2="346.2" stroke="#3ecfcf"/>
<rect x="661.9" y="313.6" width="7.6" height="27.9" fill="#3ecfcf"/>
<line x1="675.1" y1="322.9" x2="675.1" y2="346.2" stroke="#a3161c"/>
<line x1="675.1" y1="350.8" x2="675.1" y2="364.8" stroke="#a3161c"/>
<rect x="671.8" y="346.2" width="6.6" height="4.7" fill="none" stroke="#a3161c"/>
<line x1="684.5" y1="299.6" x2="684.5" y2="304.3" stroke="#a3161c"/>
<line x1="684.5" y1="327.5" x2="684.5" y2="374.1" stroke="#a3161c"/>
<rect x="681.2" y="304.3" width="6.6" height="23.3" fill="none" stroke="#a3161c"/>
<line x1="693.9" y1="308.9" x2="693.9" y2="346.2" stroke="#3ecfcf"/>
<rect x="690.1" y="308.9" width="7.6" height="4.7" fill="#3ecfcf"/>
<line x1="703.3" y1="322.9" x2="703.3" y2="322.9" stroke="#a3161c"/>
<line x1="703.3" y1="336.8" x2="703.3" y2="392.7" stroke="#a3161c"/>
<rect x="700.0" y="322.9" width="6.6" height="14.0" fill="none" stroke="#a3161c"/>
<line x1="712.8" y1="285.6" x2="712.8" y2="313.6" stroke="#a3161c"/>
<line x1="712.8" y1="336.8" x2="712.8" y2="346.2" stroke="#a3161c"/>
<rect x="709.5" y="313.6" width="6.6" height="23.3" fill="none" stroke="#a3161c"/>
<line x1="722.2" y1="336.8" x2="722.2" y2="350.8" stroke="#a3161c"/>
<line x1="722.2" y1="355.5" x2="722.2" y2="374.1" stroke="#a3161c"/>
<rect x="718.9" y="350.8" width="6.6" height="4.7" fill="none" stroke="#a3161c"/>
<line x1="731.6" y1="285.6" x2="731.6" y2="304.3" stroke="#a3161c"/>
<line x1="731.6" y1="346.2" x2="731.6" y2="350.8" stroke="#a3161c"/>
<rect x="728.3" y="304.3" width="6.6" height="41.9" fill="none" stroke="#a3161c"/>
<line x1="741.0" y1="285.6" x2="741.0" y2="285.6" stroke="#a3161c"/>
<line x1="741.0" y1="308.9" x2="741.0" y2="332.2" stroke="#a3161c"/>
<rect x="737.7" y="285.6" width="6.6" height="23.3" fill="none" stroke="#a3161c"/>
<line x1="750.4" y1="257.7" x2="750.4" y2="281.0" stroke="#a3161c"/>
<line x1="750.4" y1="290.3" x2="750.4" y2="299.6" stroke="#a3161c"/>
<rect x="747.1" y="281.0" width="6.6" height="9.3" fill="none" stroke="#a3161c"/>
<line x1="759.8" y1="262.4" x2="759.8" y2="332.2" stroke="#3ecfcf"/>
<rect x="756.0" y="281.0" width="7.6" height="46.6" fill="#3ecfcf"/>
<line x1="769.2" y1="308.9" x2="769.2" y2="369.4" stroke="#3ecfcf"/>
<rect x="765.4" y="318.2" width="7.6" height="37.2" fill="#3ecfcf"/>
<line x1="778.6" y1="336.8" x2="778.6" y2="346.2" stroke="#a3161c"/>
<line x1="778.6" y1="360.1" x2="778.6" y2="364.8" stroke="#a3161c"/>
<rect x="775.3" y="346.2" width="6.6" height="14.0" fill="none" stroke="#a3161c"/>
<line x1="788.0" y1="336.8" x2="788.0" y2="383.4" stroke="#3ecfcf"/>
<rect x="784.2" y="350.8" width="7.6" height="23.3" fill="#3ecfcf"/>
<line x1="797.4" y1="364.8" x2="797.4" y2="369.4" stroke="#a3161c"/>
<line x1="797.4" y1="378.7" x2="797.4" y2="406.7" stroke="#a3161c"/>
<rect x="794.1" y="369.4" width="6.6" height="9.3" fill="none" stroke="#a3161c"/>
<line x1="806.9" y1="355.5" x2="806.9" y2="411.3" stroke="#3ecfcf"/>
<rect x="803.1" y="364.8" width="7.6" height="41.9" fill="#3ecfcf"/>
<line x1="816.3" y1="388.1" x2="816.3" y2="392.7" stroke="#a3161c"/>
<line x1="816.3" y1="402.0" x2="816.3" y2="420.6" stroke="#a3161c"/>
<rect x="813.0" y="392.7" width="6.6" height="9.3" fill="none" stroke="#a3161c"/>
<line x1="825.7" y1="378.7" x2="825.7" y2="411.3" stroke="#3ecfcf"/>
<rect x="821.9" y="388.1" width="7.6" height="23.3" fill="#3ecfcf"/>
<line x1="835.1" y1="406.7" x2="835.1" y2="406.7" stroke="#a3161c"/>
<line x1="835.1" y1="411.3" x2="835.1" y2="425.3" stroke="#a3161c"/>
<rect x="831.8" y="406.7" width="6.6" height="4.7" fill="none" stroke="#a3161c"/>
<line x1="844.5" y1="388.1" x2="844.5" y2="429.9" stroke="#3ecfcf"/>
<rect x="840.7" y="411.3" width="7.6" height="4.7" fill="#3ecfcf"/>
<line x1="853.9" y1="369.4" x2="853.9" y2="383.4" stroke="#a3161c"/>
<line x1="853.9" y1="425.3" x2="853.9" y2="429.9" stroke="#a3161c"/>
<rect x="850.6" y="383.4" width="6.6" height="41.9" fill="none" stroke="#a3161c"/>
<line x1="863.3" y1="369.4" x2="863.3" y2="374.1" stroke="#a3161c"/>
<line x1="863.3" y1="388.1" x2="863.3" y2="406.7" stroke="#a3161c"/>
<rect x="860.0" y="374.1" width="6.6" height="14.0" fill="none" stroke="#a3161c"/>
<rect x="3.1" y="703.6" width="7.7" height="11.6" fill="#3ecfcf"/>
<rect x="13.1" y="703.0" width="6.7" height="11.7" fill="none" stroke="#a3161c"/>
<rect x="22.0" y="699.3" width="7.7" height="15.9" fill="#3ecfcf"/>
<rect x="31.9" y="703.6" width="6.7" height="11.1" fill="none" stroke="#a3161c"/>
<rect x="41.3" y="700.9" width="6.7" height="13.8" fill="none" stroke="#a3161c"/>
<rect x="50.2" y="706.6" width="7.7" height="8.6" fill="#3ecfcf"/>
<rect x="59.6" y="703.0" width="7.7" height="12.2" fill="#3ecfcf"/>
<rect x="69.5" y="706.0" width="6.7" height="8.7" fill="none" stroke="#a3161c"/>
<rect x="78.9" y="707.2" width="6.7" height="7.5" fill="none" stroke="#a3161c"/>
<rect x="88.3" y="706.0" width="6.7" height="8.7" fill="none" stroke="#a3161c"/>
<rect x="97.8" y="704.8" width="6.7" height="9.9" fill="none" stroke="#a3161c"/>
<rect x="107.2" y="698.7" width="6.7" height="16.0" fill="none" stroke="#a3161c"/>
<rect x="116.1" y="709.7" width="7.7" height="5.5" fill="#3ecfcf"/>
<rect x="126.0" y="702.3" width="6.7" height="12.4" fill="none" stroke="#a3161c"/>
<rect x="135.4" y="698.7" width="6.7" height="16.0" fill="none" stroke="#a3161c"/>
<rect x="144.8" y="704.2" width="6.7" height="10.5" fill="none" stroke="#a3161c"/>
<rect x="154.2" y="698.0" width="6.7" height="16.7" fill="none" stroke="#a3161c"/>
<rect x="163.6" y="707.0" width="6.7" height="7.7" fill="none" stroke="#a3161c"/>
<rect x="172.5" y="702.3" width="7.7" height="12.9" fill="#3ecfcf"/>
<rect x="182.4" y="706.3" width="6.7" height="8.4" fill="none" stroke="#a3161c"/>
<rect x="191.8" y="702.3" width="6.7" height="12.4" fill="none" stroke="#a3161c"/>
<rect x="201.3" y="700.9" width="6.7" height="13.8" fill="none" stroke="#a3161c"/>
<rect x="210.7" y="704.2" width="6.7" height="10.5" fill="none" stroke="#a3161c"/>
<rect x="220.1" y="687.0" width="6.7" height="27.7" fill="none" stroke="#a3161c"/>
<rect x="229.0" y="691.0" width="7.7" height="24.2" fill="#3ecfcf"/>
<rect x="238.9" y="692.5" width="6.7" height="22.2" fill="none" stroke="#a3161c"/>
<rect x="247.8" y="697.2" width="7.7" height="18.0" fill="#3ecfcf"/>
<rect x="257.2" y="693.1" width="7.7" height="22.1" fill="#3ecfcf"/>
<rect x="266.6" y="689.8" width="7.7" height="25.4" fill="#3ecfcf"/>
<rect x="276.5" y="690.3" width="6.7" height="24.4" fill="none" stroke="#a3161c"/>
<rect x="285.4" y="673.5" width="7.7" height="41.7" fill="#3ecfcf"/>
<rect x="295.4" y="692.2" width="6.7" height="22.5" fill="none" stroke="#a3161c"/>
<rect x="304.8" y="704.5" width="6.7" height="10.2" fill="none" stroke="#a3161c"/>
<rect x="314.2" y="689.5" width="6.7" height="25.2" fill="none" stroke="#a3161c"/>
<rect x="323.6" y="706.0" width="6.7" height="8.7" fill="none" stroke="#a3161c"/>
<rect x="332.5" y="705.3" width="7.7" height="9.9" fill="#3ecfcf"/>
<rect x="341.9" y="690.0" width="7.7" height="25.2" fill="#3ecfcf"/>
<rect x="351.8" y="698.9" width="6.7" height="15.8" fill="none" stroke="#a3161c"/>
<rect x="360.7" y="698.0" width="7.7" height="17.2" fill="#3ecfcf"/>
<rect x="370.6" y="688.5" width="6.7" height="26.2" fill="none" stroke="#a3161c"/>
<rect x="379.5" y="691.0" width="7.7" height="24.2" fill="#3ecfcf"/>
<rect x="389.5" y="691.0" width="6.7" height="23.7" fill="none" stroke="#a3161c"/>
<rect x="398.9" y="678.3" width="6.7" height="36.4" fill="none" stroke="#a3161c"/>
<rect x="408.3" y="675.2" width="6.7" height="39.5" fill="none" stroke="#a3161c"/>
<rect x="417.7" y="673.9" width="6.7" height="40.8" fill="none" stroke="#a3161c"/>
<rect x="427.1" y="671.3" width="6.7" height="43.4" fill="none" stroke="#a3161c"/>
<rect x="436.5" y="677.0" width="6.7" height="37.7" fill="none" stroke="#a3161c"/>
<rect x="445.9" y="642.5" width="6.7" height="72.2" fill="none" stroke="#a3161c"/>
<rect x="455.3" y="633.9" width="6.7" height="80.8" fill="none" stroke="#a3161c"/>
<rect x="464.2" y="641.8" width="7.7" height="73.4" fill="#3ecfcf"/>
<rect x="473.6" y="657.0" width="7.7" height="58.2" fill="#3ecfcf"/>
<rect x="483.6" y="655.9" width="6.7" height="58.8" fill="none" stroke="#a3161c"/>
<rect x="492.5" y="655.2" width="7.7" height="60.0" fill="#3ecfcf"/>
<rect x="501.9" y="662.8" width="7.7" height="52.4" fill="#3ecfcf"/>
<rect x="511.3" y="676.4" width="7.7" height="38.8" fill="#3ecfcf"/>
<rect x="521.2" y="672.2" width="6.7" height="42.5" fill="none" stroke="#a3161c"/>
<rect x="530.6" y="666.7" width="6.7" height="48.0" fill="none" stroke="#a3161c"/>
<rect x="540.0" y="665.4" width="6.7" height="49.3" fill="none" stroke="#a3161c"/>
<rect x="548.9" y="679.0" width="7.7" height="36.2" fill="#3ecfcf"/>
<rect x="558.3" y="680.9" width="7.7" height="34.3" fill="#3ecfcf"/>
<rect x="568.2" y="650.1" width="6.7" height="64.6" fill="none" stroke="#a3161c"/>
<rect x="577.2" y="673.6" width="7.7" height="41.6" fill="#3ecfcf"/>
<rect x="587.1" y="685.0" width="6.7" height="29.7" fill="none" stroke="#a3161c"/>
<rect x="596.0" y="660.3" width="7.7" height="54.9" fill="#3ecfcf"/>
<rect x="605.4" y="664.2" width="7.7" height="51.0" fill="#3ecfcf"/>
<rect x="614.8" y="661.2" width="7.7" height="54.0" fill="#3ecfcf"/>
<rect x="624.7" y="680.9" width="6.7" height="33.8" fill="none" stroke="#a3161c"/>
<rect x="633.6" y="686.6" width="7.7" height="28.6" fill="#3ecfcf"/>
<rect x="643.0" y="679.0" width="7.7" height="36.2" fill="#3ecfcf"/>
<rect x="652.9" y="692.0" width="6.7" height="22.7" fill="none" stroke="#a3161c"/>
<rect x="661.9" y="686.6" width="7.7" height="28.6" fill="#3ecfcf"/>
<rect x="671.3" y="692.6" width="7.7" height="22.6" fill="#3ecfcf"/>
<rect x="681.2" y="679.0" width="6.7" height="35.7" fill="none" stroke="#a3161c"/>
<rect x="690.1" y="681.9" width="7.7" height="33.3" fill="#3ecfcf"/>
<rect x="699.5" y="673.9" width="7.7" height="41.3" fill="#3ecfcf"/>
<rect x="709.4" y="673.9" width="6.7" height="40.8" fill="none" stroke="#a3161c"/>
<rect x="718.3" y="663.7" width="7.7" height="51.5" fill="#3ecfcf"/>
<rect x="728.2" y="662.8" width="6.7" height="51.9" fill="none" stroke="#a3161c"/>
<rect x="737.6" y="669.4" width="6.7" height="45.3" fill="none" stroke="#a3161c"/>
<rect x="747.0" y="676.0" width="6.7" height="38.7" fill="none" stroke="#a3161c"/>
<rect x="755.9" y="675.5" width="7.7" height="39.7" fill="#3ecfcf"/>
<rect x="765.4" y="673.9" width="7.7" height="41.3" fill="#3ecfcf"/>
<rect x="775.3" y="687.2" width="6.7" height="27.5" fill="none" stroke="#a3161c"/>
<rect x="784.2" y="688.5" width="7.7" height="26.7" fill="#3ecfcf"/>
<rect x="794.1" y="675.2" width="6.7" height="39.5" fill="none" stroke="#a3161c"/>
<rect x="803.0" y="675.8" width="7.7" height="39.4" fill="#3ecfcf"/>
<rect x="812.9" y="664.6" width="6.7" height="50.1" fill="none" stroke="#a3161c"/>
<rect x="821.8" y="683.2" width="7.7" height="32.0" fill="#3ecfcf"/>
<rect x="831.7" y="686.6" width="6.7" height="28.1" fill="none" stroke="#a3161c"/>
<rect x="840.6" y="679.6" width="7.7" height="35.6" fill="#3ecfcf"/>
<rect x="850.5" y="680.2" width="6.7" height="34.5" fill="none" stroke="#a3161c"/>
<rect x="860.0" y="695.1" width="6.7" height="19.6" fill="none" stroke="#a3161c"/>
<polyline points="7.0,701.1 16.4,701.2 25.8,701.4 35.2,701.5 44.6,701.6 54.0,701.8 63.5,701.9 72.9,702.0 82.3,702.1 91.7,702.3 101.1,702.4 110.5,702.5 119.9,702.7 129.3,702.8 138.7,702.9 148.2,703.1 157.6,703.2 167.0,703.3 176.4,703.4 185.8,703.6 195.2,703.5 204.6,703.4 214.0,703.6 223.4,702.8 232.8,702.3 242.2,701.6 251.7,701.3 261.1,700.7 270.5,699.8 279.9,699.0 289.3,697.5 298.7,697.1 308.1,696.9 317.5,696.2 326.9,696.6 336.4,696.6 345.8,696.2 355.2,695.8 364.6,695.6 374.0,694.7 383.4,694.2 392.8,693.7 402.2,692.4 411.6,691.8 421.0,690.9 430.4,689.9 439.9,688.9 449.3,686.3 458.7,683.5 468.1,681.1 477.5,680.3 486.9,678.5 496.3,676.0 505.7,674.7 515.1,673.2 524.5,671.5 534.0,670.4 543.4,668.7 552.8,667.8 562.2,667.4 571.6,665.3 581.0,664.5 590.4,664.8 599.8,664.0 609.2,663.6 618.6,663.1 628.1,663.2 637.5,665.5 646.9,667.7 656.3,670.2 665.7,671.7 675.1,673.5 684.5,674.7 693.9,675.7 703.3,675.6 712.8,675.6 722.2,675.5 731.6,675.4 741.0,674.9 750.4,674.6 759.8,675.9 769.2,675.9 778.6,676.0 788.0,677.4 797.4,678.0 806.9,678.7 816.3,677.9 825.7,677.7 835.1,678.1 844.5,677.5 853.9,677.2 863.3,677.3" fill="none" stroke="#96389f" stroke-width="1.1" stroke-linejoin="round"/>
<polyline points="7.0,700.5 16.4,700.8 25.8,701.1 35.2,701.5 44.6,702.0 54.0,702.5 63.5,703.0 72.9,703.4 82.3,703.7 91.7,703.9 101.1,704.0 110.5,703.6 119.9,704.6 129.3,704.5 138.7,704.3 148.2,704.1 157.6,703.6 167.0,703.7 176.4,703.2 185.8,703.2 195.2,703.0 204.6,703.2 214.0,702.6 223.4,701.1 232.8,700.3 242.2,699.1 251.7,699.1 261.1,697.7 270.5,696.4 279.9,694.8 289.3,692.0 298.7,691.1 308.1,691.1 317.5,691.4 326.9,692.9 336.4,694.1 345.8,693.4 355.2,694.0 364.6,694.8 374.0,694.6 383.4,696.4 392.8,696.3 402.2,693.6 411.6,692.2 421.0,689.0 430.4,685.6 439.9,684.3 449.3,678.7 458.7,672.3 468.1,667.6 477.5,664.2 486.9,660.7 496.3,658.4 505.7,657.1 515.1,657.4 524.5,657.5 534.0,656.4 543.4,658.7 552.8,663.2 562.2,667.1 571.6,666.5 581.0,668.2 590.4,671.2 599.8,671.0 609.2,669.7 618.6,668.6 628.1,670.1 637.5,672.2 646.9,672.2 656.3,673.3 665.7,676.9 675.1,678.8 684.5,678.2 693.9,680.4 703.3,681.4 712.8,682.6 722.2,680.9 731.6,678.5 741.0,677.6 750.4,676.0 759.8,674.9 769.2,673.0 778.6,673.8 788.0,674.5 797.4,674.6 806.9,674.8 816.3,674.9 825.7,676.9 835.1,678.6 844.5,679.0 853.9,679.5 863.3,681.6" fill="none" stroke="#c46e1c" stroke-width="1.1" stroke-linejoin="round"/>
<polyline points="7.0,702.3 16.4,702.4 25.8,702.5 35.2,702.4 44.6,702.1 54.0,702.7 63.5,702.7 72.9,704.0 82.3,704.7 91.7,705.8 101.1,705.4 110.5,704.5 119.9,705.3 129.3,704.3 138.7,702.8 148.2,702.7 157.6,702.6 167.0,702.0 176.4,702.0 185.8,703.6 195.2,703.2 204.6,703.8 214.0,703.2 223.4,700.1 232.8,697.1 242.2,695.1 251.7,694.4 261.1,692.2 270.5,692.7 279.9,692.6 289.3,688.8 298.7,687.8 308.1,690.1 317.5,690.0 326.9,693.1 336.4,699.5 345.8,699.1 355.2,697.9 364.6,699.6 374.0,696.1 383.4,693.3 392.8,693.5 402.2,689.4 411.6,684.8 421.0,681.9 430.4,677.9 439.9,675.1 449.3,668.0 458.7,659.7 468.1,653.3 477.5,650.4 486.9,646.2 496.3,648.8 505.7,654.5 515.1,661.5 524.5,664.5 534.0,666.7 543.4,668.7 552.8,671.9 562.2,672.8 571.6,668.4 581.0,669.8 590.4,673.7 599.8,670.0 609.2,666.6 618.6,668.9 628.1,670.3 637.5,670.6 646.9,674.4 656.3,679.9 665.7,685.0 675.1,687.4 684.5,685.8 693.9,686.4 703.3,682.8 712.8,680.3 722.2,674.5 731.6,671.2 741.0,668.7 750.4,669.2 759.8,669.5 769.2,671.5 778.6,676.4 788.0,680.2 797.4,680.1 806.9,680.1 816.3,678.3 825.7,677.5 835.1,677.1 844.5,678.0 853.9,678.8 863.3,684.9" fill="none" stroke="#bdbdbd" stroke-width="1.1" stroke-linejoin="round"/>
<text x="530" y="90.2" fill="#c8283a" stroke="#c8283a" stroke-width="0.25" font-size="14.3">0.895</text>
<path d="M566,85.5 L580,85.5 M576.5,82.5 L580,85.5 L576.5,88.5" fill="none" stroke="#9a9a9a" stroke-width="1"/>
<text x="41" y="605.5" fill="#1fb347" stroke="#1fb347" stroke-width="0.25" font-size="14.3">0.784</text>
<path d="M25.5,601 L40,601 M29,598 L25.5,601 L29,604" fill="none" stroke="#9a9a9a" stroke-width="1"/>
<text x="4.5" y="626.6" fill="#d0d0d0" stroke="#d0d0d0" stroke-width="0.25">AMO: 3.62亿 MA(5): 5.57亿</text>
<text x="185" y="626.6" fill="#e07b1f" stroke="#e07b1f" stroke-width="0.25">MA(10): 6.14亿</text>
<text x="286" y="626.6" fill="#ad3fb8" stroke="#ad3fb8" stroke-width="0.25">MA(20): 6.91亿</text>
<text x="891.3" y="672.3" fill="#b4b4b4" stroke="#b4b4b4" stroke-width="0.25">9.00亿</text>
<text x="891" y="711" fill="#b4b4b4" stroke="#b4b4b4" stroke-width="0.25">0</text>
<rect x="859.8" y="689.8" width="6.6" height="4" fill="none" stroke="#c8a82a" stroke-width="0.8" stroke-dasharray="1.5,1.5"/>
<text x="9" y="734" fill="#9a9ea4" stroke="#9a9ea4" stroke-width="0.25" font-size="14.5" textLength="36.5" lengthAdjust="spacingAndGlyphs">25-06</text>
<text x="84" y="734" fill="#9a9ea4" stroke="#9a9ea4" stroke-width="0.25" font-size="14.5" textLength="36.5" lengthAdjust="spacingAndGlyphs">25-07</text>
<text x="300" y="734" fill="#9a9ea4" stroke="#9a9ea4" stroke-width="0.25" font-size="14.5" textLength="36.5" lengthAdjust="spacingAndGlyphs">25-08</text>
<text x="497" y="734" fill="#9a9ea4" stroke="#9a9ea4" stroke-width="0.25" font-size="14.5" textLength="36.5" lengthAdjust="spacingAndGlyphs">25-09</text>
<text x="705" y="734" fill="#9a9ea4" stroke="#9a9ea4" stroke-width="0.25" font-size="14.5" textLength="36.5" lengthAdjust="spacingAndGlyphs">25-10</text>
<text x="865" y="734" fill="#9a9ea4" stroke="#9a9ea4" stroke-width="0.25" font-size="14.5" textLength="36.5" lengthAdjust="spacingAndGlyphs">25-11</text>
<line x1="6.5" y1="718" x2="6.5" y2="734" stroke="#33353b" stroke-width="1"/>
<line x1="81.5" y1="718" x2="81.5" y2="734" stroke="#33353b" stroke-width="1"/>
<line x1="298.5" y1="718" x2="298.5" y2="734" stroke="#33353b" stroke-width="1"/>
<line x1="495.5" y1="718" x2="495.5" y2="734" stroke="#33353b" stroke-width="1"/>
<line x1="702.5" y1="718" x2="702.5" y2="734" stroke="#33353b" stroke-width="1"/>
<line x1="862.5" y1="718" x2="862.5" y2="734" stroke="#33353b" stroke-width="1"/>
<line x1="72.5" y1="718" x2="72.5" y2="721" stroke="#33353b" stroke-width="1"/>
<line x1="119.5" y1="718" x2="119.5" y2="721" stroke="#33353b" stroke-width="1"/>
<line x1="166.5" y1="718" x2="166.5" y2="721" stroke="#33353b" stroke-width="1"/>
<line x1="213.5" y1="718" x2="213.5" y2="721" stroke="#33353b" stroke-width="1"/>
<line x1="260.5" y1="718" x2="260.5" y2="721" stroke="#33353b" stroke-width="1"/>
<line x1="307.5" y1="718" x2="307.5" y2="721" stroke="#33353b" stroke-width="1"/>
<line x1="354.5" y1="718" x2="354.5" y2="721" stroke="#33353b" stroke-width="1"/>
<line x1="401.5" y1="718" x2="401.5" y2="721" stroke="#33353b" stroke-width="1"/>
<line x1="448.5" y1="718" x2="448.5" y2="721" stroke="#33353b" stroke-width="1"/>
<line x1="542.5" y1="718" x2="542.5" y2="721" stroke="#33353b" stroke-width="1"/>
<line x1="589.5" y1="718" x2="589.5" y2="721" stroke="#33353b" stroke-width="1"/>
<line x1="636.5" y1="718" x2="636.5" y2="721" stroke="#33353b" stroke-width="1"/>
<line x1="684.5" y1="718" x2="684.5" y2="721" stroke="#33353b" stroke-width="1"/>
<line x1="721.5" y1="718" x2="721.5" y2="721" stroke="#33353b" stroke-width="1"/>
<line x1="768.5" y1="718" x2="768.5" y2="721" stroke="#33353b" stroke-width="1"/>
<line x1="815.5" y1="718" x2="815.5" y2="721" stroke="#33353b" stroke-width="1"/>
<rect x="0" y="740" width="953" height="8" fill="#111317"/>
<rect x="3" y="740" width="74" height="8" fill="#222428"/>
<text x="40.0" y="758" fill="#c4c4c4" stroke="#c4c4c4" stroke-width="0.25" text-anchor="middle">龙虎榜单</text>
<rect x="79" y="740" width="75" height="8" fill="#222428"/>
<text x="116.5" y="758" fill="#c4c4c4" stroke="#c4c4c4" stroke-width="0.25" text-anchor="middle">大宗交易</text>
<rect x="156" y="740" width="66" height="8" fill="#222428"/>
<text x="189.0" y="758" fill="#c4c4c4" stroke="#c4c4c4" stroke-width="0.25" text-anchor="middle">DDE</text>
<rect x="224" y="740" width="57" height="8" fill="#222428"/>
<text x="252.5" y="758" fill="#c4c4c4" stroke="#c4c4c4" stroke-width="0.25" text-anchor="middle">财务</text>
<rect x="284" y="740" width="75" height="8" fill="#222428"/>
<text x="321.5" y="758" fill="#c4c4c4" stroke="#c4c4c4" stroke-width="0.25" text-anchor="middle">主力资金</text>
<rect x="361" y="740" width="54" height="8" fill="#222428"/>
<text x="388.0" y="758" fill="#c4c4c4" stroke="#c4c4c4" stroke-width="0.25" text-anchor="middle">融资</text>
<rect x="417" y="740" width="59" height="8" fill="#222428"/>
<text x="446.5" y="758" fill="#c4c4c4" stroke="#c4c4c4" stroke-width="0.25" text-anchor="middle">筹码</text>
<rect x="478" y="740" width="67" height="8" fill="#222428"/>
<text x="511.5" y="758" fill="#c4c4c4" stroke="#c4c4c4" stroke-width="0.25" text-anchor="middle">机构持仓</text>
<rect x="547" y="740" width="74" height="8" fill="#4a4d55"/>
<text x="584.0" y="758" fill="#c4c4c4" stroke="#c4c4c4" stroke-width="0.25" text-anchor="middle">分时成交</text>
<rect x="623" y="740" width="116" height="8" fill="#222428"/>
<text x="681.0" y="758" fill="#c4c4c4" stroke="#c4c4c4" stroke-width="0.25" text-anchor="middle">历史分时数据</text>
<rect x="741" y="740" width="28" height="8" fill="#222428"/>
<rect x="770" y="740" width="183" height="8" fill="#1e2025"/>
<rect x="747.5" y="744.5" width="16" height="6" fill="none" stroke="#9a9a9a" stroke-width="1"/><path d="M755.5,746 L755.5,748" stroke="#9a9a9a"/>
<rect x="953" y="0" width="3" height="748" fill="#0d0e11"/>
<path d="M955.5,332 L966,337 L966,434 L955.5,439 Z" fill="#25272c"/>
<text x="957" y="390" fill="#9a9ea4" stroke="#9a9ea4" stroke-width="0.25" font-size="13">»</text>
<rect x="1302.5" y="76" width="1.5" height="672" fill="#0d0e11"/><rect x="1304" y="76" width="1" height="672" fill="#2e3036"/>
<text x="973.3" y="24.8" fill="#f0f0f0" font-size="17.5" font-weight="bold" textLength="70.5" lengthAdjust="spacingAndGlyphs">消费ETF</text>
<text x="1302.5" y="26.6" fill="#c8c8c8" stroke="#c8c8c8" stroke-width="0.25" font-size="23.3" text-anchor="end" textLength="74.5" lengthAdjust="spacingAndGlyphs">159928</text>
<text x="970.8" y="60" fill="#ff2a36" font-size="38.5" font-weight="bold" textLength="92.5" lengthAdjust="spacingAndGlyphs">0.833</text>
<text x="1228.3" y="52.2" fill="#ff2a36" font-size="19.5" text-anchor="end" font-weight="bold" textLength="60" lengthAdjust="spacingAndGlyphs">+0.002</text>
<text x="1303" y="52.2" fill="#ff2a36" font-size="19.5" text-anchor="end" font-weight="bold" textLength="64.5" lengthAdjust="spacingAndGlyphs">+0.24%</text>
<text x="971" y="75" fill="#8f939a" stroke="#8f939a" stroke-width="0.25" font-size="14.5" textLength="31" lengthAdjust="spacingAndGlyphs">SZSE</text>
<text x="1010.5" y="75" fill="#8f939a" stroke="#8f939a" stroke-width="0.25" font-size="14.5" textLength="26.5" lengthAdjust="spacingAndGlyphs">CNY</text>
<text x="1046" y="75" fill="#8f939a" stroke="#8f939a" stroke-width="0.25">14:14:33</text>
<text x="1109" y="75" fill="#8f939a" stroke="#8f939a" stroke-width="0.25">交易中</text>
<text x="1219" y="74" fill="#8f939a" stroke="#8f939a" stroke-width="0.25" font-size="12">通</text>
<text x="1237.5" y="74" fill="#8f939a" stroke="#8f939a" stroke-width="0.25" font-size="12">融</text>
<rect x="1255" y="63" width="12" height="12" fill="#2b2d33"/>
<rect x="1273" y="63" width="12" height="12" fill="#2b2d33"/>
<rect x="1291" y="63" width="12" height="12" fill="#2b2d33"/>
<path d="M1258.5,72.5 L1264,66.5" stroke="#3ecfcf" stroke-width="2.6" stroke-linecap="round"/>
<circle cx="1279" cy="69" r="3.6" fill="none" stroke="#2a4fa8" stroke-width="1.5" stroke-dasharray="2.2,0.8"/>
<path d="M1297,65.5 L1297,72.5 M1293.5,69 L1300.5,69" stroke="#3a7af0" stroke-width="2"/>
<rect x="966" y="76.5" width="337" height="2" fill="#0d0e11"/>
<text x="972" y="93.5" fill="#c4c4c4" stroke="#c4c4c4" stroke-width="0.25">净值走势</text>
<text x="1295.5" y="93.5" fill="#d0d0d0" stroke="#d0d0d0" stroke-width="0.25" text-anchor="end">汇添富中证主要消费ETF</text>
<rect x="966" y="96.5" width="337" height="1" fill="#2a2c31"/>
<text x="972" y="113.5" fill="#a8abb0" stroke="#a8abb0" stroke-width="0.25">今年</text>
<text x="1128.8" y="113.5" fill="#e5303a" stroke="#e5303a" stroke-width="0.25" text-anchor="end">1.96%</text>
<text x="1137.4" y="113.5" fill="#a8abb0" stroke="#a8abb0" stroke-width="0.25">120日</text>
<text x="1295.5" y="113.5" fill="#e5303a" stroke="#e5303a" stroke-width="0.25" text-anchor="end">1.34%</text>
<text x="972" y="133.2" fill="#a8abb0" stroke="#a8abb0" stroke-width="0.25">5日</text>
<text x="1128.8" y="133.2" fill="#e5303a" stroke="#e5303a" stroke-width="0.25" text-anchor="end">0.48%</text>
<text x="1137.4" y="133.2" fill="#a8abb0" stroke="#a8abb0" stroke-width="0.25">250日</text>
<text x="1295.5" y="133.2" fill="#1fb347" stroke="#1fb347" stroke-width="0.25" text-anchor="end">-0.36%</text>
<text x="972" y="152.9" fill="#a8abb0" stroke="#a8abb0" stroke-width="0.25">20日</text>
<text x="1128.8" y="152.9" fill="#1fb347" stroke="#1fb347" stroke-width="0.25" text-anchor="end">-0.72%</text>
<text x="1137.4" y="152.9" fill="#a8abb0" stroke="#a8abb0" stroke-width="0.25">52周高</text>
<text x="1295.5" y="152.9" fill="#d0d0d0" stroke="#d0d0d0" stroke-width="0.25" text-anchor="end">0.94</text>
<text x="972" y="172.6" fill="#a8abb0" stroke="#a8abb0" stroke-width="0.25">60日</text>
<text x="1128.8" y="172.6" fill="#e5303a" stroke="#e5303a" stroke-width="0.25" text-anchor="end">3.35%</text>
<text x="1137.4" y="172.6" fill="#a8abb0" stroke="#a8abb0" stroke-width="0.25">52周低</text>
<text x="1295.5" y="172.6" fill="#d0d0d0" stroke="#d0d0d0" stroke-width="0.25" text-anchor="end">0.76</text>
<rect x="966" y="175" width="337" height="1" fill="#2a2c31"/>
<text x="972" y="195" fill="#d8d8d8" font-weight="bold">实时申购赎回信息</text>
<text x="1182.4" y="195" fill="#8f939a" stroke="#8f939a" stroke-width="0.25" text-anchor="end">申购</text>
<text x="1295.5" y="195" fill="#8f939a" stroke="#8f939a" stroke-width="0.25" text-anchor="end">赎回</text>
<text x="972" y="216.5" fill="#a8abb0" stroke="#a8abb0" stroke-width="0.25">笔数</text>
<text x="1182.4" y="216.5" fill="#d0d0d0" stroke="#d0d0d0" stroke-width="0.25" text-anchor="end">13</text>
<text x="1295.5" y="216.5" fill="#d0d0d0" stroke="#d0d0d0" stroke-width="0.25" text-anchor="end">10</text>
<text x="972" y="238.5" fill="#a8abb0" stroke="#a8abb0" stroke-width="0.25">金额</text>
<text x="1182.4" y="238.5" fill="#d0d0d0" stroke="#d0d0d0" stroke-width="0.25" text-anchor="end">0</text>
<text x="1295.5" y="238.5" fill="#d0d0d0" stroke="#d0d0d0" stroke-width="0.25" text-anchor="end">0</text>
<text x="972" y="261" fill="#a8abb0" stroke="#a8abb0" stroke-width="0.25">份额</text>
<text x="1182.4" y="261" fill="#d0d0d0" stroke="#d0d0d0" stroke-width="0.25" text-anchor="end">4000万</text>
<text x="1295.5" y="261" fill="#d0d0d0" stroke="#d0d0d0" stroke-width="0.25" text-anchor="end">2200万</text>
<rect x="964.7" y="245.2" width="336.6" height="23.5" fill="none" stroke="#ff2a05" stroke-width="5.4"/>
<text x="969" y="284" fill="#d8d8d8" font-weight="bold">申赎清单</text>
<g fill="#9a9ea4"><circle cx="1279.5" cy="279.5" r="1"/><circle cx="1283.3" cy="279.5" r="1"/><circle cx="1287.1" cy="279.5" r="1"/></g>
<text x="972" y="305.5" fill="#a8abb0" stroke="#a8abb0" stroke-width="0.25">最小申赎单位份额</text>
<text x="1295.5" y="305.5" fill="#d0d0d0" stroke="#d0d0d0" stroke-width="0.25" text-anchor="end">2,000,000</text>
<text x="972" y="327.3" fill="#a8abb0" stroke="#a8abb0" stroke-width="0.25">现金替代比例上限</text>
<text x="1295.5" y="327.3" fill="#d0d0d0" stroke="#d0d0d0" stroke-width="0.25" text-anchor="end">50%</text>
<text x="972" y="349.1" fill="#a8abb0" stroke="#a8abb0" stroke-width="0.25">申购赎回允许情况</text>
<text x="1295.5" y="349.1" fill="#d0d0d0" stroke="#d0d0d0" stroke-width="0.25" text-anchor="end">申购赎回皆允许</text>
<text x="972" y="370.9" fill="#a8abb0" stroke="#a8abb0" stroke-width="0.25">T日预估现金差额</text>
<text x="1295.5" y="370.9" fill="#d0d0d0" stroke="#d0d0d0" stroke-width="0.25" text-anchor="end">23918.44元</text>
<text x="972" y="392.7" fill="#a8abb0" stroke="#a8abb0" stroke-width="0.25">T-1日单位申赎资产</text>
<text x="1295.5" y="392.7" fill="#d0d0d0" stroke="#d0d0d0" stroke-width="0.25" text-anchor="end">1659728.44元</text>
<rect x="966" y="396" width="337" height="1" fill="#2a2c31"/>
<text x="969" y="414" fill="#e0e0e0" font-weight="bold">近5日净流入</text>
<text x="1291.5" y="414" fill="#e0e0e0" text-anchor="end" font-weight="bold">单位(万元)</text>
<rect x="980.5" y="445.4" width="34" height="71.3" fill="#fc2a35"/>
<text x="997.5" y="438.9" fill="#e5303a" stroke="#e5303a" stroke-width="0.25" text-anchor="middle">28669</text>
<rect x="1049.0" y="495.3" width="34" height="21.4" fill="#fc2a35"/>
<text x="1066" y="488.8" fill="#e5303a" stroke="#e5303a" stroke-width="0.25" text-anchor="middle">9105</text>
<rect x="1116.7" y="489.1" width="34" height="27.6" fill="#fc2a35"/>
<text x="1133.7" y="482.6" fill="#e5303a" stroke="#e5303a" stroke-width="0.25" text-anchor="middle">11206</text>
<rect x="1185.0" y="495.3" width="34" height="21.4" fill="#fc2a35"/>
<text x="1202" y="488.8" fill="#e5303a" stroke="#e5303a" stroke-width="0.25" text-anchor="middle">9252</text>
<rect x="1253.2" y="517.3" width="34" height="32.7" fill="#1cbc4c"/>
<text x="1270" y="567" fill="#1fb347" stroke="#1fb347" stroke-width="0.25" text-anchor="middle">-13285</text>
<text x="997.5" y="589" fill="#a8abb0" stroke="#a8abb0" stroke-width="0.25" text-anchor="middle">10-27</text>
<text x="1066" y="589" fill="#a8abb0" stroke="#a8abb0" stroke-width="0.25" text-anchor="middle">10-28</text>
<text x="1133.7" y="589" fill="#a8abb0" stroke="#a8abb0" stroke-width="0.25" text-anchor="middle">10-29</text>
<text x="1202" y="589" fill="#a8abb0" stroke="#a8abb0" stroke-width="0.25" text-anchor="middle">10-30</text>
<text x="1270" y="589" fill="#a8abb0" stroke="#a8abb0" stroke-width="0.25" text-anchor="middle">10-31</text>
<rect x="966" y="595.5" width="337" height="1" fill="#2a2c31"/>
<text x="973.8" y="618.5" fill="#a8abb0" stroke="#a8abb0" stroke-width="0.25">天数</text>
<text x="1144" y="618.5" fill="#a8abb0" stroke="#a8abb0" stroke-width="0.25" text-anchor="end">净流天</text>
<text x="1219" y="618.5" fill="#a8abb0" stroke="#a8abb0" stroke-width="0.25" text-anchor="end">净流额</text>
<text x="1294.2" y="618.5" fill="#a8abb0" stroke="#a8abb0" stroke-width="0.25" text-anchor="end">净流率</text>
<text x="987.5" y="640.5" fill="#a8abb0" stroke="#a8abb0" stroke-width="0.25" text-anchor="middle">5</text>
<text x="1144" y="640.5" fill="#e5303a" stroke="#e5303a" stroke-width="0.25" text-anchor="end">4</text>
<text x="1219" y="640.5" fill="#e5303a" stroke="#e5303a" stroke-width="0.25" text-anchor="end">44946</text>
<text x="1294.2" y="640.5" fill="#e5303a" stroke="#e5303a" stroke-width="0.25" text-anchor="end">2.20%</text>
<text x="987.5" y="663.5" fill="#a8abb0" stroke="#a8abb0" stroke-width="0.25" text-anchor="middle">10</text>
<text x="1144" y="663.5" fill="#e5303a" stroke="#e5303a" stroke-width="0.25" text-anchor="end">6</text>
<text x="1219" y="663.5" fill="#e5303a" stroke="#e5303a" stroke-width="0.25" text-anchor="end">47226</text>
<text x="1294.2" y="663.5" fill="#e5303a" stroke="#e5303a" stroke-width="0.25" text-anchor="end">2.26%</text>
<text x="987.5" y="686.5" fill="#a8abb0" stroke="#a8abb0" stroke-width="0.25" text-anchor="middle">20</text>
<text x="1144" y="686.5" fill="#e5303a" stroke="#e5303a" stroke-width="0.25" text-anchor="end">15</text>
<text x="1219" y="686.5" fill="#e5303a" stroke="#e5303a" stroke-width="0.25" text-anchor="end">214343</text>
<text x="1294.2" y="686.5" fill="#e5303a" stroke="#e5303a" stroke-width="0.25" text-anchor="end">11.21%</text>
<text x="969" y="714.5" fill="#e0e0e0" font-weight="bold">基本资料</text>
<g fill="#9a9ea4"><circle cx="1279.5" cy="708.5" r="1"/><circle cx="1283.3" cy="708.5" r="1"/><circle cx="1287.1" cy="708.5" r="1"/></g>
<text x="969" y="733" fill="#8f939a" stroke="#8f939a" stroke-width="0.25">上市日期</text>
<text x="1047" y="733.4" fill="#d8d8d8" stroke="#d8d8d8" stroke-width="0.25" font-size="14.5" textLength="80.5" lengthAdjust="spacingAndGlyphs">2013-09-16</text>
<text x="1136" y="733" fill="#8f939a" stroke="#8f939a" stroke-width="0.25">上市份额</text>
<text x="1295.5" y="733" fill="#d0d0d0" stroke="#d0d0d0" stroke-width="0.25" text-anchor="end">7.95亿</text>
<text x="969" y="750.5" fill="#8f939a" stroke="#8f939a" stroke-width="0.25">跟踪指数</text>
<text x="1047" y="750.5" fill="#8f939a" stroke="#8f939a" stroke-width="0.25">中证主要消费</text>
<text x="1136" y="750.5" fill="#8f939a" stroke="#8f939a" stroke-width="0.25">基金规模</text>
<text x="1295.5" y="750.5" fill="#d0d0d0" stroke="#d0d0d0" stroke-width="0.25" text-anchor="end">15.42亿</text>
<rect x="956" y="740" width="347" height="8" fill="#1b1d21"/>
<rect x="967" y="740" width="45" height="8" fill="#1f2126"/>
<rect x="1013" y="740" width="45.5" height="8" fill="#4a4c54"/>
<text x="989.5" y="758" fill="#c4c4c4" stroke="#c4c4c4" stroke-width="0.25" text-anchor="middle">盘口</text>
<text x="1035.7" y="758" fill="#d8d8d8" stroke="#d8d8d8" stroke-width="0.25" text-anchor="middle">特色</text>
</svg></body></html>
